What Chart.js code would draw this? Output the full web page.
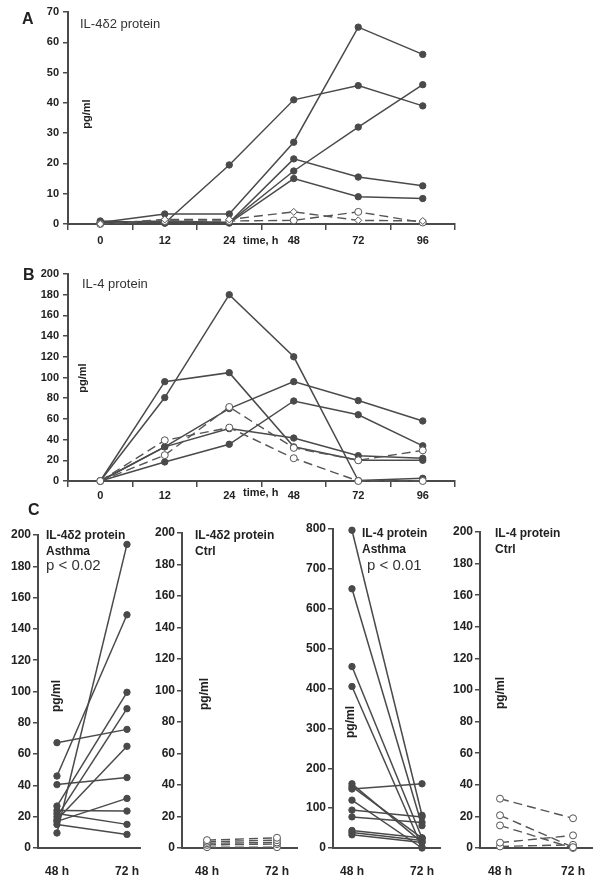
<!DOCTYPE html>
<html lang="en">
<head>
<meta charset="UTF-8">
<title>IL-4δ2 and IL-4 protein</title>
<style>
  body { margin: 0; background: #fff; font-family: "Liberation Sans", Arial, sans-serif; color: #222; }
  #page { position: relative; width: 600px; height: 885px; overflow: hidden; }
  canvas { position: absolute; }
  .lbl { position: absolute; white-space: nowrap; line-height: 1; }
  .panel { font-size: 16px; font-weight: bold; }
  .title { font-size: 13px; color: #333; }
  .sub { font-size: 12px; font-weight: bold; line-height: 16px; }
  .pval { font-size: 15px; color: #333; }
  .axis { font-size: 11px; font-weight: bold; }
  .unit { font-size: 11px; font-weight: bold; transform: translate(-50%, -50%) rotate(-90deg); }
  .unitC { font-size: 12px; }
</style>
<script src="https://cdn.jsdelivr.net/npm/chart.js"></script>
</head>
<body>
<div id="page">
  <canvas id="chartA"></canvas>
  <canvas id="chartB"></canvas>
  <canvas id="chartC1"></canvas>
  <canvas id="chartC2"></canvas>
  <canvas id="chartC3"></canvas>
  <canvas id="chartC4"></canvas>

  <div class="lbl panel" style="left:22px;top:11px">A</div>
  <div class="lbl title" style="left:80px;top:17px">IL-4δ2 protein</div>
  <div class="lbl unit" style="left:86px;top:114px">pg/ml</div>
  <div class="lbl axis" style="left:243px;top:235px">time, h</div>

  <div class="lbl panel" style="left:23px;top:267px">B</div>
  <div class="lbl title" style="left:82px;top:277px">IL-4 protein</div>
  <div class="lbl unit" style="left:82px;top:378px">pg/ml</div>
  <div class="lbl axis" style="left:243px;top:487px">time, h</div>

  <div class="lbl panel" style="left:28px;top:502px">C</div>
  <div class="lbl sub" style="left:46px;top:527px">IL-4δ2 protein<br>Asthma</div>
  <div class="lbl pval" style="left:46px;top:557px">p &lt; 0.02</div>
  <div class="lbl unit unitC" style="left:56px;top:696px">pg/ml</div>

  <div class="lbl sub" style="left:195px;top:527px">IL-4δ2 protein<br>Ctrl</div>
  <div class="lbl unit unitC" style="left:204px;top:694px">pg/ml</div>

  <div class="lbl sub" style="left:362px;top:525px">IL-4 protein<br>Asthma</div>
  <div class="lbl pval" style="left:367px;top:557px">p &lt; 0.01</div>
  <div class="lbl unit unitC" style="left:350px;top:722px">pg/ml</div>

  <div class="lbl sub" style="left:495px;top:525px">IL-4 protein<br>Ctrl</div>
  <div class="lbl unit unitC" style="left:500px;top:693px">pg/ml</div>
</div>

<script>
// ---- data ----
const timeLabels = ['0', '12', '24', '48', '72', '96'];

// A: IL-4δ2 protein, asthma (solid) and controls (dashed)
const aSolid = [
  [1, 0.3, 19.5, 41, 45.7, 39],
  [0.5, 3.3, 3.3, 27, 65, 56],
  [0.3, 0.5, 0.5, 17.5, 32, 46],
  [0.5, 1, 0.5, 21.5, 15.5, 12.6],
  [0.3, 0.3, 0.3, 15, 9, 8.4]
];
const aDashed = [
  [0, 1.5, 1.5, 4, 1.2, 1],
  [0, 1, 1, 1.2, 4, 0.5]
];

// B: IL-4 protein
const bSolid = [
  [0, 80.6, 180, 120, 0.5, 2.6],
  [0, 96, 104.7, 33, 20, 20],
  [0, 33, 70, 96, 77.7, 58],
  [0, 18.4, 35.5, 77.3, 64, 34],
  [0, 33, 50.6, 41.5, 24.5, 22]
];
const bDashed = [
  [0, 39.3, 51.6, 22, 0, 0],
  [0, 25, 71.5, 32, 20, 29.6]
];

// C: 48 h vs 72 h pairs
const cLabels = ['48 h', '72 h'];
const c1At48 = [67.3, 46, 40.5, 26.8, 24, 22, 20, 18, 17, 15, 9.6];
const c1At72 = [75.8, 149, 45, 99.5, 23.6, 15.1, 89, 65, 31.7, 8.7, 194];
const c2At48 = [5, 4, 3, 2, 0.5];
const c2At72 = [6.5, 5, 3.5, 2.5, 0.5];
const c3At48 = [797, 650, 455, 405, 161, 154, 148, 120, 95, 78, 44, 39, 33];
const c3At72 = [82, 56, 25, 2, 14, 25, 161, 0, 78, 64, 25, 19, 14];
const c4At48 = [31.2, 20.7, 14.3, 3.4, 1];
const c4At72 = [18.8, 0.5, 0, 8, 2];

// ---- styles ----
const LINE = '#4a4a4a';
Chart.defaults.font.family = '"Liberation Sans", Arial, sans-serif';
Chart.defaults.color = '#222';

function solidSet(data) {
  return {
    data: data, borderColor: LINE, borderWidth: 1.5, clip: false,
    pointRadius: 3.2, pointBackgroundColor: LINE, pointBorderColor: LINE, pointBorderWidth: 1
  };
}
function dashedSet(data, style) {
  return {
    data: data, borderColor: '#555', borderWidth: 1.4, borderDash: [9, 5], clip: false,
    pointStyle: style || 'circle', pointRadius: 3.5,
    pointBackgroundColor: '#fff', pointBorderColor: '#555', pointBorderWidth: 1
  };
}
function pairs(a, b) {
  return a.map((v, i) => [{ x: 0, y: v }, { x: 1, y: b[i] }]);
}

// box = canvas position, area = plot rectangle on the page
function makeChart(id, box, area, cfg) {
  const cv = document.getElementById(id);
  cv.width = box.w; cv.height = box.h;
  cv.style.left = box.l + 'px'; cv.style.top = box.t + 'px';
  cv.style.width = box.w + 'px'; cv.style.height = box.h + 'px';
  const yW = area.l - box.l;
  const xH = box.t + box.h - area.b;
  const font = { size: cfg.fontSize, weight: 'bold' };

  // in panel C the x labels sit lower: use an invisible tick for the gap,
  // so the label padding does not shrink the plot width
  const xScale = cfg.linearX ? {
    type: 'linear', min: cfg.xMin, max: cfg.xMax,
    afterBuildTicks: s => { s.ticks = [{ value: 0 }, { value: 1 }]; },
    ticks: { font: font, padding: 2, maxRotation: 0, callback: v => cLabels[v] },
    grid: { drawOnChartArea: false, drawTicks: true, tickLength: cfg.xGap, color: 'rgba(0,0,0,0)' },
    border: { color: LINE, width: 2 },
    afterFit: s => { s.height = xH; }
  } : {
    type: 'category', offset: true,
    ticks: { font: font, padding: cfg.xPad, maxRotation: 0, autoSkip: false },
    grid: { offset: true, drawOnChartArea: false, tickLength: 6, color: LINE, lineWidth: 1.5 },
    border: { color: LINE, width: 2 },
    afterFit: s => { s.height = xH; }
  };

  return new Chart(cv, {
    type: 'line',
    data: { labels: cfg.labels, datasets: cfg.datasets },
    options: {
      responsive: false, animation: false, events: [],
      layout: { padding: { left: 0, top: area.t - box.t, right: box.l + box.w - area.r, bottom: 0 } },
      plugins: { legend: { display: false }, tooltip: { enabled: false } },
      elements: { line: { tension: 0 } },
      scales: {
        x: xScale,
        y: {
          min: 0, max: cfg.yMax,
          ticks: { stepSize: cfg.yStep, font: font, padding: cfg.yPad },
          grid: { drawOnChartArea: false, tickLength: 5, color: LINE, lineWidth: 1.5 },
          border: { color: LINE, width: 2 },
          afterFit: s => { s.width = yW; }
        }
      }
    }
  });
}

// Panel A
makeChart('chartA', { l: 0, t: 0, w: 600, h: 252 }, { l: 68, t: 12, r: 455, b: 224 }, {
  labels: timeLabels, fontSize: 11, xPad: 4, yPad: 4, yMax: 70, yStep: 10,
  datasets: [dashedSet(aDashed[0], 'rectRot'), dashedSet(aDashed[1])].concat(aSolid.map(solidSet))
});

// Panel B
makeChart('chartB', { l: 0, t: 250, w: 600, h: 262 }, { l: 68, t: 274, r: 455, b: 481 }, {
  labels: timeLabels, fontSize: 11, xPad: 2, yPad: 4, yMax: 200, yStep: 20,
  datasets: bDashed.map(d => dashedSet(d)).concat(bSolid.map(solidSet))
});

// Panel C
makeChart('chartC1', { l: 0, t: 505, w: 150, h: 380 }, { l: 38, t: 535, r: 140, b: 848 }, {
  linearX: true, xMin: -0.271, xMax: 1.186, fontSize: 12, xGap: 14, yPad: 2, yMax: 200, yStep: 20,
  datasets: pairs(c1At48, c1At72).map(solidSet)
});
makeChart('chartC2', { l: 145, t: 505, w: 160, h: 380 }, { l: 182, t: 533, r: 297, b: 848 }, {
  linearX: true, xMin: -0.357, xMax: 1.286, fontSize: 12, xGap: 14, yPad: 2, yMax: 200, yStep: 20,
  datasets: pairs(c2At48, c2At72).map(d => dashedSet(d))
});
makeChart('chartC3', { l: 290, t: 505, w: 160, h: 380 }, { l: 333, t: 529, r: 440, b: 848 }, {
  linearX: true, xMin: -0.271, xMax: 1.257, fontSize: 12, xGap: 14, yPad: 2, yMax: 800, yStep: 100,
  datasets: pairs(c3At48, c3At72).map(solidSet)
});
makeChart('chartC4', { l: 440, t: 505, w: 160, h: 380 }, { l: 480, t: 532, r: 592, b: 848 }, {
  linearX: true, xMin: -0.274, xMax: 1.26, fontSize: 12, xGap: 14, yPad: 2, yMax: 200, yStep: 20,
  datasets: pairs(c4At48, c4At72).map(d => dashedSet(d))
});
</script>
</body>
</html>
